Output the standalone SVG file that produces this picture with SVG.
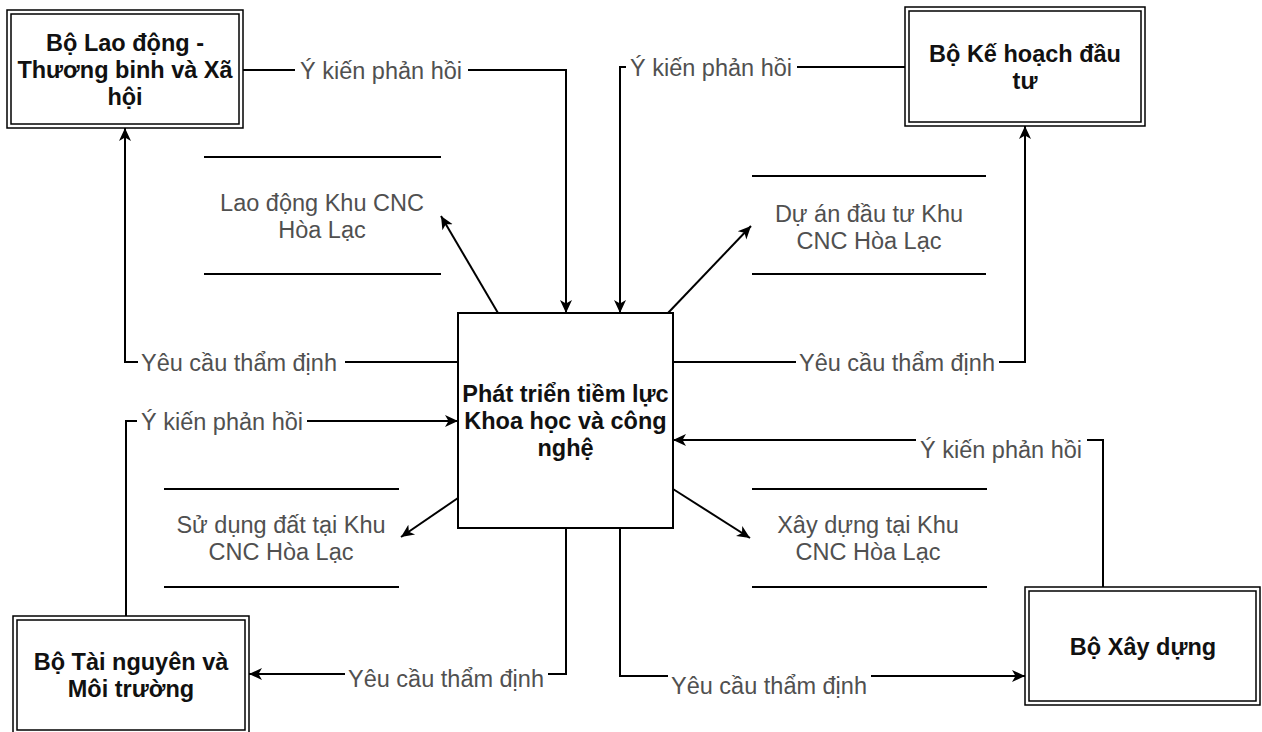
<svg xmlns="http://www.w3.org/2000/svg" width="1262" height="732" viewBox="0 0 1262 732">
<style>
  .box{fill:#fff;stroke:#000;stroke-width:2}
  .dbl{fill:none;stroke:#000;stroke-width:1.5}
  .ln{fill:none;stroke:#000;stroke-width:2}
  .node{font-family:"Liberation Sans",Arial,sans-serif;font-size:23.5px;font-weight:bold;fill:#111;text-anchor:middle}
  .lbl{font-family:"Liberation Sans",Arial,sans-serif;font-size:23.5px;fill:#505050;text-anchor:middle}
  .con{fill:none;stroke:#000;stroke-width:2;marker-end:url(#arr)}
</style>
<defs>
  <marker id="arr" markerUnits="userSpaceOnUse" viewBox="0 0 14 14" markerWidth="14" markerHeight="14" refX="13" refY="7" orient="auto">
    <path d="M13,7 L0,1 L3.5,7 L0,13 Z" fill="#000"/>
  </marker>
</defs>
<rect width="1262" height="732" fill="#fff"/>

<g id="node-bo-ldtbxh">
  <rect class="dbl" x="7" y="10" width="236" height="118"/>
  <rect class="dbl" x="11" y="14" width="228" height="110"/>
  <text class="node" x="125" y="51">Bộ Lao động -</text>
  <text class="node" x="125" y="78">Thương binh và Xã</text>
  <text class="node" x="125" y="105">hội</text>
</g>

<g id="node-bo-khdt">
  <rect class="dbl" x="905" y="7" width="240" height="119"/>
  <rect class="dbl" x="909" y="11" width="232" height="111"/>
  <text class="node" x="1025" y="62">Bộ Kế hoạch đầu</text>
  <text class="node" x="1025" y="89">tư</text>
</g>

<g id="node-bo-tnmt">
  <rect class="dbl" x="13" y="616" width="236" height="118"/>
  <rect class="dbl" x="17" y="620" width="228" height="110"/>
  <text class="node" x="131" y="670">Bộ Tài nguyên và</text>
  <text class="node" x="131" y="697">Môi trường</text>
</g>

<g id="node-bo-xd">
  <rect class="dbl" x="1025" y="587" width="235" height="118"/>
  <rect class="dbl" x="1029" y="591" width="227" height="110"/>
  <text class="node" x="1143" y="655">Bộ Xây dựng</text>
</g>

<g id="node-central">
  <rect class="box" x="458" y="313" width="215" height="215"/>
  <text class="node" x="565.5" y="402">Phát triển tiềm lực</text>
  <text class="node" x="565.5" y="429">Khoa học và công</text>
  <text class="node" x="565.5" y="456">nghệ</text>
</g>

<g id="store-lao-dong">
  <line class="ln" x1="204" y1="157" x2="441" y2="157"/>
  <line class="ln" x1="204" y1="274" x2="441" y2="274"/>
  <text class="lbl" x="322" y="211">Lao động Khu CNC</text>
  <text class="lbl" x="322" y="238">Hòa Lạc</text>
</g>

<g id="store-du-an">
  <line class="ln" x1="752" y1="176" x2="986" y2="176"/>
  <line class="ln" x1="752" y1="274" x2="986" y2="274"/>
  <text class="lbl" x="869" y="222">Dự án đầu tư Khu</text>
  <text class="lbl" x="869" y="249">CNC Hòa Lạc</text>
</g>

<g id="store-su-dung-dat">
  <line class="ln" x1="164" y1="489" x2="399" y2="489"/>
  <line class="ln" x1="164" y1="587" x2="399" y2="587"/>
  <text class="lbl" x="281" y="533">Sử dụng đất tại Khu</text>
  <text class="lbl" x="281" y="560">CNC Hòa Lạc</text>
</g>

<g id="store-xay-dung">
  <line class="ln" x1="752" y1="489" x2="987" y2="489"/>
  <line class="ln" x1="752" y1="587" x2="987" y2="587"/>
  <text class="lbl" x="868" y="533">Xây dựng tại Khu</text>
  <text class="lbl" x="868" y="560">CNC Hòa Lạc</text>
</g>

<g id="connectors">
  <path class="con" d="M243,70 L295,70 M468,70 L566,70 L566,313"/>
  <text class="lbl" x="381" y="78.5">Ý kiến phản hồi</text>

  <path class="con" d="M905,67 L797,67 M626,67 L620,67 L620,313"/>
  <text class="lbl" x="711" y="75.5">Ý kiến phản hồi</text>

  <path class="con" d="M458,362 L345,362 M138,362 L125,362 L125,128"/>
  <text class="lbl" x="239" y="370.5">Yêu cầu thẩm định</text>

  <path class="con" d="M673,362 L796,362 M999,362 L1025,362 L1025,126"/>
  <text class="lbl" x="897" y="370.5">Yêu cầu thẩm định</text>

  <path class="con" d="M126,616 L126,421 L137,421 M307,421 L458,421"/>
  <text class="lbl" x="222" y="429.5">Ý kiến phản hồi</text>

  <path class="con" d="M1103,587 L1103,440 L1087,440 M916,440 L673,440"/>
  <text class="lbl" x="1001" y="458">Ý kiến phản hồi</text>

  <path class="con" d="M566,528 L566,674 L548,674 M345,674 L249,674"/>
  <text class="lbl" x="446" y="686.5">Yêu cầu thẩm định</text>

  <path class="con" d="M620,528 L620,676 L668,676 M871,676 L1025,676"/>
  <text class="lbl" x="769" y="694">Yêu cầu thẩm định</text>

  <path class="con" d="M498,313 L441,216"/>
  <path class="con" d="M668,313 L751,226"/>
  <path class="con" d="M458,498 L401,537"/>
  <path class="con" d="M673,489 L750,538"/>
</g>
</svg>
